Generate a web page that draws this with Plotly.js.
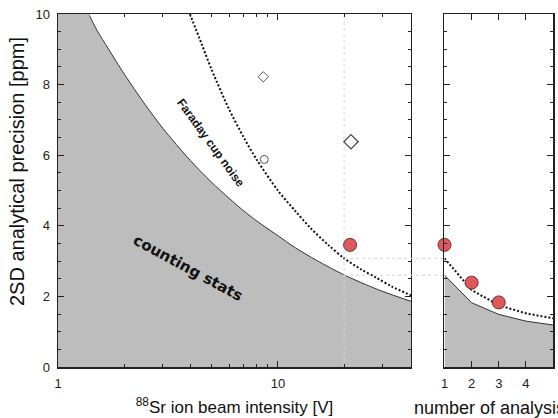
<!DOCTYPE html>
<html><head><meta charset="utf-8">
<script src="https://cdn.plot.ly/plotly-3.0.1.min.js"></script>
<style>html,body{margin:0;padding:0;background:#fff}</style>
</head><body><div id="chart" style="width:558px;height:418px"></div>
<script>
// Counting statistics limit (left panel); region left of the curve top is shaded too
const countTopX = [1, 1.39];
const countTopY = [10, 10];
const countX = [1.38, 1.5, 1.7, 2, 2.5, 3, 4, 5, 6, 7, 8, 10, 12, 15, 20, 25, 30, 40.3];
const countY = [10, 9.55, 9.0, 8.3, 7.42, 6.76, 5.85, 5.23, 4.78, 4.42, 4.14, 3.72, 3.38, 3.02, 2.61, 2.34, 2.14, 1.86];
// Faraday cup noise limit (left panel)
const faraX = [3.98, 4.5, 5, 6, 7, 8, 10, 12, 14, 17, 20, 24, 28, 33, 40.3];
const faraY = [10, 9.15, 8.42, 7.3, 6.5, 5.88, 5.0, 4.42, 3.95, 3.45, 3.08, 2.76, 2.53, 2.28, 2.03];
// Measured points (left panel)
const smallDiamond = {x: [8.58], y: [8.22]};
const openCircle = {x: [8.67], y: [5.88]};
const bigDiamond = {x: [21.5], y: [6.38]};
const redLeft = {x: [21.3], y: [3.46]};
// Right panel: number of analyses
const nAnalysis = [1, 2, 3, 4, 5];
const countN = [2.6, 1.82, 1.49, 1.3, 1.19];
const faraN = [3.08, 2.18, 1.75, 1.52, 1.38];
const redRightX = [1, 2, 3];
const redRightY = [3.46, 2.39, 1.83];
// Guide lines
const guideX = 20;
const guideY = [3.08, 2.6];
// Ticks
const yTicks = [0, 2, 4, 6, 8, 10];
const xLogTicks = [1, 10];
const xLogMinor = [2, 3, 4, 5, 6, 7, 8, 9, 20, 30, 40];
const nTicks = [1, 2, 3, 4];

const xMax = 40.3;
const dom1 = [0, 0.7131];
const dom2 = [0.7808, 1];

const tickFont = {family: 'Liberation Sans, Arial, sans-serif', size: 13, color: '#222'};
const titleFont = {family: 'Liberation Sans, Arial, sans-serif', size: 17, color: '#111'};
const red = '#dc5a5a';
const gray = '#bdbdbd';

const traces = [
  {x: countX, y: countY, xaxis: 'x', yaxis: 'y', mode: 'lines', fill: 'tozeroy',
   fillcolor: gray, line: {color: '#333', width: 1, shape: 'spline', smoothing: 0.8}},
  {x: countTopX, y: countTopY, xaxis: 'x', yaxis: 'y', mode: 'lines', fill: 'tozeroy',
   fillcolor: gray, line: {color: gray, width: 0}},
  {x: [guideX, guideX], y: [0, 10], xaxis: 'x', yaxis: 'y', mode: 'lines',
   line: {color: '#dadada', width: 1, dash: 'dot'}},
  {x: faraX, y: faraY, xaxis: 'x', yaxis: 'y', mode: 'lines',
   line: {color: '#111', width: 2, dash: '2px,2px', shape: 'spline', smoothing: 0.8}},
  {x: smallDiamond.x, y: smallDiamond.y, xaxis: 'x', yaxis: 'y', mode: 'markers',
   marker: {symbol: 'diamond-open', size: 8, color: '#555', line: {width: 1}}},
  {x: openCircle.x, y: openCircle.y, xaxis: 'x', yaxis: 'y', mode: 'markers',
   marker: {symbol: 'circle-open', size: 8, color: '#555', line: {width: 1}}},
  {x: bigDiamond.x, y: bigDiamond.y, xaxis: 'x', yaxis: 'y', mode: 'markers',
   marker: {symbol: 'diamond-open', size: 11, color: '#444', line: {width: 1.2}}},
  {x: redLeft.x, y: redLeft.y, xaxis: 'x', yaxis: 'y', mode: 'markers',
   marker: {symbol: 'circle', size: 13, color: red, line: {color: '#7a2c2c', width: 1}}},
  {x: nAnalysis, y: countN, xaxis: 'x2', yaxis: 'y2', mode: 'lines', fill: 'tozeroy',
   fillcolor: gray, line: {color: '#333', width: 1}},
  {x: nAnalysis, y: faraN, xaxis: 'x2', yaxis: 'y2', mode: 'lines',
   line: {color: '#111', width: 2, dash: '2px,2px'}},
  {x: redRightX, y: redRightY, xaxis: 'x2', yaxis: 'y2', mode: 'markers', cliponaxis: false,
   marker: {symbol: 'circle', size: 13, color: red, line: {color: '#7a2c2c', width: 1}}}
];

const guideStart = dom1[0] + (dom1[1] - dom1[0]) * Math.log10(guideX) / Math.log10(xMax);
const shapes = guideY.map(v => ({type: 'line', xref: 'paper', yref: 'y', x0: guideStart, x1: dom2[0],
  y0: v, y1: v, line: {color: '#d3d3d3', width: 1, dash: 'dot'}}));

const axCommon = {showline: true, linecolor: '#222', linewidth: 1.5, mirror: 'allticks',
  ticks: 'inside', ticklen: 6, tickcolor: '#222', tickwidth: 1, showgrid: false, zeroline: false,
  tickfont: tickFont, ticklabelstandoff: 4};

const layout = {
  width: 558, height: 418,
  margin: {l: 58, r: 5, t: 14, b: 51},
  paper_bgcolor: '#fff', plot_bgcolor: '#fff',
  showlegend: false,
  xaxis: Object.assign({}, axCommon, {type: 'log', domain: dom1, range: [0, Math.log10(xMax)],
    tickvals: xLogTicks, ticktext: ['1', '10'],
    minor: {tickvals: xLogMinor, ticks: 'inside', ticklen: 3, tickcolor: '#222'},
    title: {text: '<sup>88</sup>Sr ion beam intensity [V]', font: titleFont, standoff: 11}}),
  yaxis: Object.assign({}, axCommon, {range: [0, 10], tickvals: yTicks, anchor: 'x',
    minor: {dtick: 0.5, ticks: 'inside', ticklen: 3, tickcolor: '#222'}}),
  xaxis2: Object.assign({}, axCommon, {domain: dom2, range: [1, 5], tickvals: nTicks, anchor: 'y2'}),
  yaxis2: Object.assign({}, axCommon, {range: [0, 10], tickvals: yTicks, anchor: 'x2',
    showticklabels: false, minor: {dtick: 0.5, ticks: 'inside', ticklen: 3, tickcolor: '#222'}}),
  shapes: shapes,
  annotations: [
    {xref: 'paper', yref: 'paper', x: (17 - 58) / 495, y: (367 - 172) / 353, xanchor: 'center', yanchor: 'middle',
     text: '2SD analytical precision [ppm]', textangle: -90, showarrow: false,
     font: {family: 'Liberation Sans, Arial, sans-serif', size: 20, color: '#111'}},
    {xref: 'paper', yref: 'paper', x: (412 - 58) / 495, y: (367 - 408) / 353, xanchor: 'left', yanchor: 'middle',
     text: 'number of analysis', showarrow: false,
     font: {family: 'Liberation Sans, Arial, sans-serif', size: 18, color: '#111'}},
    {xref: 'x', yref: 'y', x: Math.log10(4.96), y: 6.35, text: '<b>Faraday cup noise</b>',
     textangle: 54, showarrow: false, font: {family: 'Liberation Sans, Arial, sans-serif', size: 12, color: '#111'}},
    {xref: 'x', yref: 'y', x: Math.log10(3.9), y: 2.8, text: '<b>counting stats</b>',
     textangle: 28.5, showarrow: false, font: {family: 'DejaVu Sans, Verdana, sans-serif', size: 15, color: '#111'}}
  ]
};

Plotly.newPlot('chart', traces, layout, {displayModeBar: false, staticPlot: true});
</script></body></html>
